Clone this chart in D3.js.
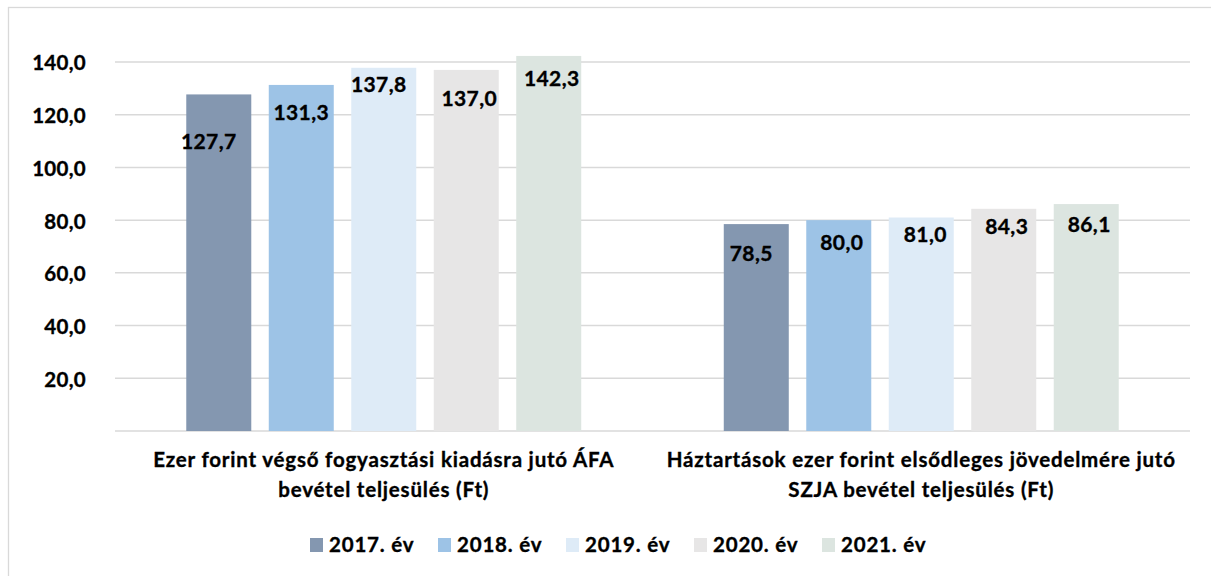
<!DOCTYPE html>
<html>
<head>
<meta charset="utf-8">
<script src="https://cdn.jsdelivr.net/npm/d3@7"></script>
<style>
  body { margin: 0; background: #fff; }
  svg { display: block; font-family: Lato, "Open Sans", sans-serif; font-weight: bold; }
  svg text { stroke: #000; stroke-width: 0.35px; }
</style>
</head>
<body>
<div id="chart"></div>
<script>
const categories = [
  ["Ezer forint végső fogyasztási kiadásra jutó ÁFA", "bevétel teljesülés (Ft)"],
  ["Háztartások ezer forint elsődleges jövedelmére jutó", "SZJA bevétel teljesülés (Ft)"]
];
const years = ["2017. év", "2018. év", "2019. év", "2020. év", "2021. év"];
const afaValues = [127.7, 131.3, 137.8, 137.0, 142.3];
const szjaValues = [78.5, 80.0, 81.0, 84.3, 86.1];
const yTicks = [20, 40, 60, 80, 100, 120, 140];

const colors = ["#8497b0", "#9dc3e6", "#deebf7", "#e7e6e6", "#dce5e0"];

// hand-placed value labels in the original, kept as nudges from the bar top
const labelNudge = [
  [[-10, 47], [0, 28], [-5, 17], [3, 29], [3, 23]],
  [[-5, 29], [3, 22], [4, 17], [3, 18], [3, 20]]
];

const width = 1211;
const height = 576;
const margin = { top: 62, right: 21, bottom: 145, left: 115 };

const series = [afaValues, szjaValues];
const catKeys = categories.map((c, i) => i);

const x0 = d3.scaleBand()
  .domain(catKeys)
  .range([margin.left, width - margin.right]);

const x1 = d3.scaleBand()
  .domain(years)
  .range([0, x0.bandwidth()])
  .paddingInner(0.212)
  .paddingOuter(0.864);

const y = d3.scaleLinear()
  .domain([0, 140])
  .range([height - margin.bottom, margin.top]);

const fmt = v => d3.format(".1f")(v).replace(".", ",");

const color = d3.scaleOrdinal().domain(years).range(colors);

const svg = d3.select("#chart")
  .append("svg")
  .attr("width", width)
  .attr("height", height);

// chart frame (runs off the right and bottom edges)
svg.append("rect")
  .attr("x", 8.5)
  .attr("y", 7.5)
  .attr("width", width + 10)
  .attr("height", height + 10)
  .attr("fill", "#fff")
  .attr("stroke", "#d9d9d9")
  .attr("stroke-width", 1.3);

// gridlines
svg.append("g")
  .selectAll("line")
  .data([0, ...yTicks])
  .join("line")
  .attr("x1", margin.left)
  .attr("x2", width - margin.right)
  .attr("y1", d => y(d))
  .attr("y2", d => y(d))
  .attr("stroke", "#d9d9d9")
  .attr("stroke-width", 1.5);

// y tick labels
svg.append("g")
  .selectAll("text")
  .data(yTicks)
  .join("text")
  .attr("x", 86)
  .attr("y", d => y(d) + 1)
  .attr("dy", "0.36em")
  .attr("text-anchor", "end")
  .attr("font-size", "20.5px")
  .attr("letter-spacing", "0.3px")
  .attr("fill", "#000")
  .text(fmt);

// bars + value labels
catKeys.forEach(ci => {
  const g = svg.append("g").attr("transform", `translate(${x0(ci)},0)`);
  series[ci].forEach((v, yi) => {
    const yr = years[yi];
    g.append("rect")
      .attr("x", x1(yr))
      .attr("y", y(v))
      .attr("width", x1.bandwidth())
      .attr("height", y(0) - y(v))
      .attr("fill", color(yr));

    const [dx, dy] = labelNudge[ci][yi];
    g.append("text")
      .attr("x", x1(yr) + x1.bandwidth() / 2 + dx)
      .attr("y", y(v) + dy)
      .attr("dy", "0.36em")
      .attr("text-anchor", "middle")
      .attr("font-size", "21px")
      .attr("letter-spacing", "0.4px")
      .attr("fill", "#000")
      .text(fmt(v));
  });

  // category label
  const lbl = svg.append("text")
    .attr("x", x0(ci) + x0.bandwidth() / 2)
    .attr("y", 467)
    .attr("text-anchor", "middle")
    .attr("font-size", "20.5px")
    .attr("letter-spacing", "0.8px")
    .attr("fill", "#000");
  categories[ci].forEach((line, li) => {
    lbl.append("tspan")
      .attr("x", x0(ci) + x0.bandwidth() / 2)
      .attr("dy", li === 0 ? 0 : 30)
      .text(line);
  });
});

// legend
const legend = svg.append("g")
  .attr("transform", `translate(310,538)`);

years.forEach((yr, i) => {
  const item = legend.append("g")
    .attr("transform", `translate(${i * 128},0)`);
  item.append("rect")
    .attr("width", 13)
    .attr("height", 14)
    .attr("fill", color(yr));
  item.append("text")
    .attr("x", 19)
    .attr("y", 14)
    .attr("font-size", "20.5px")
    .attr("letter-spacing", "0.8px")
    .attr("fill", "#000")
    .text(yr);
});
</script>
</body>
</html>
